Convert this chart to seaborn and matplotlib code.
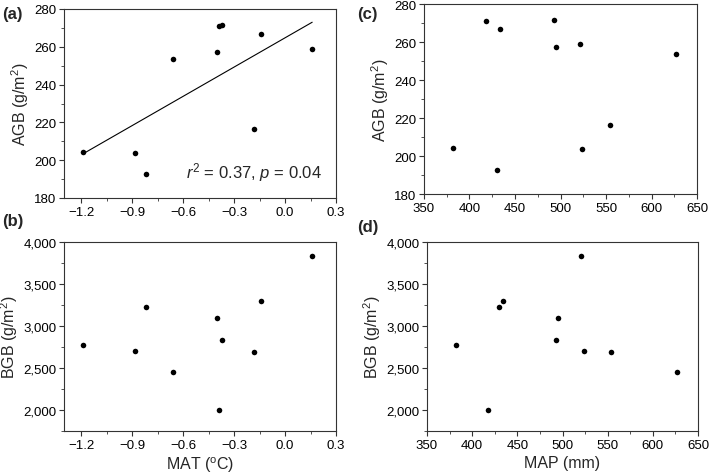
import numpy as np
import pandas as pd
import matplotlib
matplotlib.use('Agg')
import matplotlib.pyplot as plt
from matplotlib.ticker import AutoMinorLocator, StrMethodFormatter, MultipleLocator
import seaborn as sns

# site values (same site order in all panels)
mat = [-1.19, -0.88, -0.82, -0.66, -0.40, -0.39, -0.37, -0.18, -0.14, 0.16]
map_mm = [382, 524, 430, 627, 495, 418, 493, 554, 434, 521]
agb = [204.3, 203.8, 192.5, 253.8, 257.3, 271.0, 271.4, 216.5, 266.6, 258.7]
bgb = [2775, 2708, 3221, 2449, 3101, 2000, 2831, 2688, 3292, 3833]
stat_text = r'$\mathit{r}^\mathregular{2}$ = 0.37, $\mathit{p}$ = 0.04'

df = pd.DataFrame({'MAT': mat, 'MAP': map_mm, 'AGB': agb, 'BGB': bgb})

sns.set_theme(style='ticks')
plt.rcParams['font.family'] = ['Liberation Sans', 'DejaVu Sans']
plt.rcParams['mathtext.fontset'] = 'custom'
plt.rcParams['mathtext.rm'] = 'Liberation Sans'
plt.rcParams['mathtext.it'] = 'Liberation Sans:italic'

W, H = 709, 477
fig = plt.figure(figsize=(W / 100, H / 100), dpi=100)


def add_ax(l, r, t, b):
    return fig.add_axes([l / W, 1 - b / H, (r - l) / W, (b - t) / H])


ax_a = add_ax(64, 336, 10, 199)
ax_c = add_ax(424, 697, 5, 195)
ax_b = add_ax(64, 336, 243, 432)
ax_d = add_ax(427, 698, 243, 432)

frame_col = '#333333'
dot = dict(s=16, color='black', linewidth=0, alpha=1)


def style(ax, xlim, xstep, ylim, ystep, ylabel, xlabel=None, comma=False):
    ax.set_xlim(*xlim)
    ax.set_ylim(*ylim)
    ax.xaxis.set_major_locator(MultipleLocator(xstep))
    ax.yaxis.set_major_locator(MultipleLocator(ystep))
    ax.xaxis.set_minor_locator(AutoMinorLocator(2))
    ax.yaxis.set_minor_locator(AutoMinorLocator(2))
    if comma:
        ax.yaxis.set_major_formatter(StrMethodFormatter('{x:,.0f}'))
    for s in ax.spines.values():
        s.set_color(frame_col)
        s.set_linewidth(0.8)
    ax.tick_params(which='major', direction='out', length=3.5, width=0.8,
                   colors=frame_col, labelcolor='black', labelsize=9.5, pad=2)
    ax.tick_params(which='minor', direction='out', length=2, width=0.6, colors=frame_col)
    ax.set_ylabel(ylabel, fontsize=11.5, labelpad=2)
    ax.set_xlabel(xlabel if xlabel else '', fontsize=11.5, labelpad=3)


# (a) AGB vs MAT with fit
sns.regplot(data=df, x='MAT', y='AGB', ax=ax_a, ci=None, truncate=True,
            scatter_kws=dict(s=16, color='black', linewidths=0, alpha=1),
            line_kws=dict(color='black', lw=0.8))
style(ax_a, (-1.3, 0.3), 0.3, (180, 280), 20, r'AGB (g/m$^\mathregular{2}$)')
ax_a.xaxis.set_major_formatter(StrMethodFormatter('{x:.1f}'))
ax_a.text(0.948, 0.14, stat_text, transform=ax_a.transAxes, ha='right', va='center', fontsize=12)

# (b) BGB vs MAT
sns.scatterplot(data=df, x='MAT', y='BGB', ax=ax_b, **dot)
style(ax_b, (-1.3, 0.3), 0.3, (1750, 4000), 500, r'BGB (g/m$^\mathregular{2}$)',
      r'MAT ($^\mathregular{o}$C)', comma=True)
ax_b.xaxis.set_major_formatter(StrMethodFormatter('{x:.1f}'))

# (c) AGB vs MAP
sns.scatterplot(data=df, x='MAP', y='AGB', ax=ax_c, **dot)
style(ax_c, (350, 650), 50, (180, 280), 20, r'AGB (g/m$^\mathregular{2}$)')

# (d) BGB vs MAP
sns.scatterplot(data=df, x='MAP', y='BGB', ax=ax_d, **dot)
style(ax_d, (350, 650), 50, (1750, 4000), 500, r'BGB (g/m$^\mathregular{2}$)',
      'MAP (mm)', comma=True)

for lbl, x, y in [('(a)', 2, 14), ('(b)', 2, 222), ('(c)', 357, 14), ('(d)', 357, 228)]:
    fig.text(x / W, 1 - y / H, lbl, fontsize=12, fontweight='bold', va='center', ha='left')

fig.savefig('out.png', dpi=100)
